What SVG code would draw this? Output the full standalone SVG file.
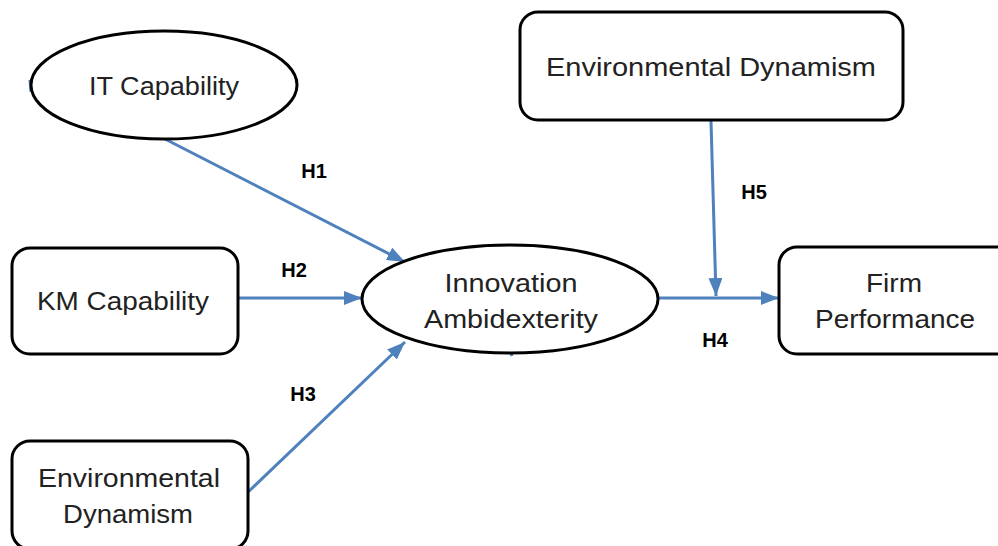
<svg xmlns="http://www.w3.org/2000/svg" width="998" height="546" viewBox="0 0 998 546">
<style>
.box{fill:#fff;stroke:#000;stroke-width:3}
.t{font-family:"Liberation Sans",Arial,sans-serif;font-size:25px;fill:#222;text-anchor:middle}
.h{font-family:"Liberation Sans",Arial,sans-serif;font-size:20px;font-weight:bold;fill:#000;text-anchor:middle}
.c{stroke:#4f81bd;stroke-width:3;fill:none}
</style>
<defs>
<marker id="ah" markerUnits="userSpaceOnUse" markerWidth="20" markerHeight="14" refX="18" refY="7" orient="auto">
<path d="M0,0 L18,7 L0,14 Z" fill="#4f81bd"/>
</marker>
</defs>
<rect width="998" height="546" fill="#fff"/>
<g id="connectors">
<line class="c" x1="165" y1="139" x2="405" y2="262" marker-end="url(#ah)"/>
<line class="c" x1="238" y1="298" x2="362" y2="298" marker-end="url(#ah)"/>
<line class="c" x1="247" y1="493" x2="405" y2="342" marker-end="url(#ah)"/>
<line class="c" x1="658" y1="298" x2="779" y2="298" marker-end="url(#ah)"/>
<line class="c" x1="711" y1="121" x2="716" y2="296" marker-end="url(#ah)"/>
<line class="c" x1="30" y1="80" x2="31" y2="92"/>
<line class="c" x1="510" y1="350" x2="512" y2="356"/>
</g>
<g id="it-capability">
<ellipse class="box" cx="164" cy="85" rx="133" ry="54"/>
<text class="t" x="164" y="95" textLength="150" lengthAdjust="spacingAndGlyphs">IT Capability</text>
</g>
<g id="km-capability">
<rect class="box" x="12" y="248" width="226" height="106" rx="18"/>
<text class="t" x="123" y="310" textLength="172" lengthAdjust="spacingAndGlyphs">KM Capability</text>
</g>
<g id="env-dynamism-left">
<rect class="box" x="12" y="441" width="236" height="108" rx="18"/>
<text class="t" x="129" y="487" textLength="182" lengthAdjust="spacingAndGlyphs">Environmental</text>
<text class="t" x="128" y="523" textLength="130" lengthAdjust="spacingAndGlyphs">Dynamism</text>
</g>
<g id="innovation-ambidexterity">
<ellipse class="box" cx="510" cy="299" rx="148" ry="54"/>
<text class="t" x="511" y="292" textLength="133" lengthAdjust="spacingAndGlyphs">Innovation</text>
<text class="t" x="511" y="328" textLength="174" lengthAdjust="spacingAndGlyphs">Ambidexterity</text>
</g>
<g id="env-dynamism-top">
<rect class="box" x="520" y="12" width="383" height="108" rx="18"/>
<text class="t" x="711" y="76" textLength="330" lengthAdjust="spacingAndGlyphs">Environmental  Dynamism</text>
</g>
<g id="firm-performance">
<rect class="box" x="779" y="247" width="240" height="107" rx="18"/>
<text class="t" x="894" y="292" textLength="56" lengthAdjust="spacingAndGlyphs">Firm</text>
<text class="t" x="895" y="328" textLength="160" lengthAdjust="spacingAndGlyphs">Performance</text>
</g>
<g id="labels">
<text class="h" x="314" y="178">H1</text>
<text class="h" x="294" y="277">H2</text>
<text class="h" x="303" y="401">H3</text>
<text class="h" x="715" y="347">H4</text>
<text class="h" x="754" y="199">H5</text>
</g>
</svg>
